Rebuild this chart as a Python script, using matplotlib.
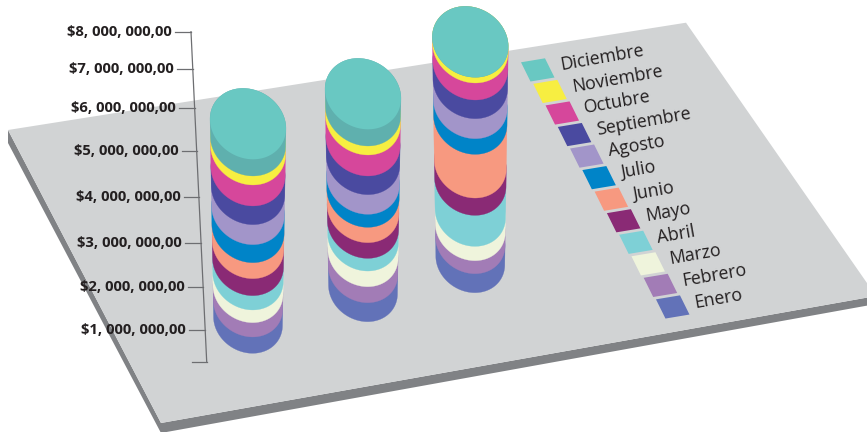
"""Stacked cylinders on a tilted plate, monthly amounts in millions."""

import matplotlib
matplotlib.use("Agg")
import matplotlib.pyplot as plt
import numpy as np
from matplotlib.patches import Polygon

months = ["Enero", "Febrero", "Marzo", "Abril", "Mayo", "Junio", "Julio",
          "Agosto", "Septiembre", "Octubre", "Noviembre", "Diciembre"]
colors = ["#6272b8", "#a27cb6", "#eff4dc", "#7ed0d6", "#8a2a75", "#f79980",
          "#0084c8", "#a295c9", "#4a4aa0", "#d6479b", "#f7ee41", "#5fb0ae"]
legend_colors = colors[:-1] + ["#69c8c2"]

# millions per month, Enero first
column_a = [0.385, 0.338, 0.299, 0.338, 0.401, 0.377, 0.425, 0.472, 0.440, 0.495, 0.212, 0.393]
column_b = [0.448, 0.377, 0.370, 0.299, 0.370, 0.362, 0.307, 0.464, 0.440, 0.495, 0.212, 0.393]
column_c = [0.448, 0.307, 0.338, 0.731, 0.409, 1.030, 0.370, 0.472, 0.440, 0.401, 0.134, 0.0]

tick_labels = ["$8, 000, 000,00", "$7, 000, 000,00", "$6, 000, 000,00", "$5, 000, 000,00",
               "$4, 000, 000,00", "$3, 000, 000,00", "$2, 000, 000,00", "$1, 000, 000,00"]

# layout, in pixels of the picture
PX_PER_MILLION = 42.4
COLUMN_X = [248, 363, 470.3]
COLUMN_BOTTOM = [353.3, 321.7, 292.7]
TICK_Y = [31.7, 69, 108, 151, 197, 243, 287, 329.7]
TICK_LEFT = [175, 177, 179, 182, 184, 185, 188, 189]
TEXT_COLOR = "#231f20"

fig = plt.figure(figsize=(8.67, 4.32), dpi=100)
ax = fig.add_axes([0, 0, 1, 1])
ax.set_xlim(0, 867)
ax.set_ylim(432, 0)
ax.axis("off")

# plate
ax.add_patch(Polygon([(8, 130), (8, 143), (161, 433), (876, 304), (876, 296), (161, 423)],
                     closed=True, fc="#808285", ec="none", zorder=1))
ax.add_patch(Polygon([(8, 130), (686, 22.7), (876, 296), (161, 423)],
                     closed=True, fc="#d1d3d4", ec="none", zorder=1))


def ellipse_points(cx, cy, scale):
    # tilted disc, long axis runs upper left to lower right
    t = np.linspace(0, 2 * np.pi, 361)
    angle = np.radians(31.5)
    a, b = 39.4 * scale, 33.9 * scale
    x = a * np.cos(t) * np.cos(angle) - b * np.sin(t) * np.sin(angle)
    y = a * np.cos(t) * np.sin(angle) + b * np.sin(t) * np.cos(angle)
    return cx + x, cy + y


def lower_chain(x, y):
    i_left, i_right = int(np.argmin(x)), int(np.argmax(x))
    idx = [(i_right + k) % 360 for k in range((i_left - i_right) % 360 + 1)]
    return np.column_stack([x[idx], y[idx]])[::-1]


def upper_chain(x, y):
    i_left, i_right = int(np.argmin(x)), int(np.argmax(x))
    idx = [(i_left + k) % 360 for k in range((i_right - i_left) % 360 + 1)]
    return np.column_stack([x[idx], y[idx]])[::-1]


def draw_column(cx, bottom, values):
    cum = np.concatenate([[0], np.cumsum(values)]) * PX_PER_MILLION
    total = cum[-1]
    scales = 0.908 + 0.092 * cum / total
    centers = bottom - cum - 35.5 * scales
    for k in range(len(values)):
        low = ellipse_points(cx, centers[k], scales[k])
        high = ellipse_points(cx, centers[k + 1], scales[k + 1])
        outline = np.vstack([lower_chain(*low), upper_chain(*high)])
        ax.add_patch(Polygon(outline, closed=True, fc=colors[k], ec=colors[k], lw=0.2, zorder=3))
    top = ellipse_points(cx, centers[-1], scales[-1])
    ax.add_patch(Polygon(np.column_stack(top), closed=True, fc="#69c8c2", ec="none", zorder=4))


for cx, bottom, values in zip(COLUMN_X, COLUMN_BOTTOM, [column_a, column_b, column_c]):
    draw_column(cx, bottom, values)


# axis line and ticks
def axis_x(y):
    return 191 + (y - 31.7) * 15.7 / 330


ax.plot([axis_x(31.7), axis_x(361.7)], [31.7, 361.7], color="#6d6e71", lw=0.9, zorder=2)
ax.plot([192, axis_x(361.7)], [361.7, 361.7], color="#6d6e71", lw=0.9, zorder=2)
for label, y, left in zip(tick_labels, TICK_Y, TICK_LEFT):
    ax.plot([left, axis_x(y)], [y, y], color="#6d6e71", lw=0.9, zorder=2)
    ax.text(left - 3, y, label, ha="right", va="center", fontsize=10.7, fontweight="bold",
            family="Open Sans", color=TEXT_COLOR, zorder=5)

# legend, drawn on the plate so the swatches are sheared
for i, (month, color) in enumerate(zip(months[::-1], legend_colors[::-1])):
    x0, y0 = 521 + 12.27 * i, 62.3 + 21.55 * i
    ax.add_patch(Polygon([(x0, y0), (x0 + 24, y0 - 4), (x0 + 33.5, y0 + 15.2), (x0 + 9.5, y0 + 19.2)],
                         closed=True, fc=color, ec="none", zorder=3))
    ax.text(560 + 12.2 * i, 65 + 21.6 * i, month, rotation=10, rotation_mode="anchor",
            ha="left", va="center", fontsize=12.8, family="Open Sans", color=TEXT_COLOR, zorder=5)

fig.savefig("out.png", dpi=100)
plt.close(fig)
